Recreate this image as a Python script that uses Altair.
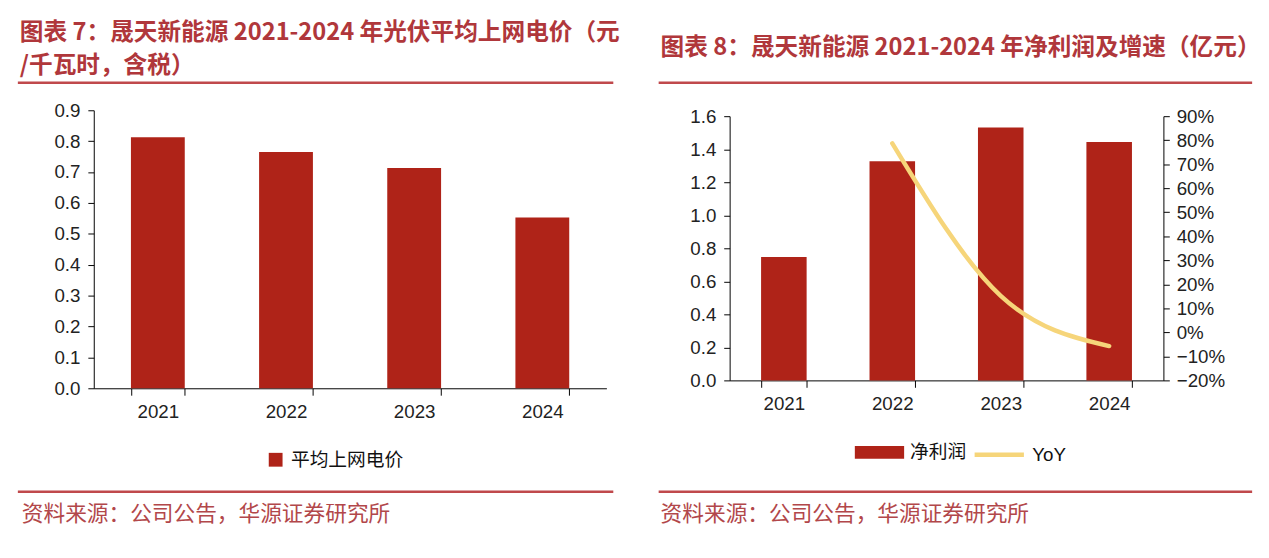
import altair as alt
import pandas as pd

# ---------------- data ----------------
years = ["2021", "2022", "2023", "2024"]
price = [0.813, 0.765, 0.713, 0.553]          # 元/千瓦时
profit = [0.747, 1.327, 1.532, 1.443]         # 亿元
yoy_years = ["2022", "2023", "2024"]
yoy = [0.787, 0.152, -0.057]

price_ticks = [0.0, 0.1, 0.2, 0.3, 0.4, 0.5, 0.6, 0.7, 0.8, 0.9]
profit_ticks = [0.0, 0.2, 0.4, 0.6, 0.8, 1.0, 1.2, 1.4, 1.6]
yoy_ticks = [-0.2, -0.1, 0.0, 0.1, 0.2, 0.3, 0.4, 0.5, 0.6, 0.7, 0.8, 0.9]

title_left_1 = "图表 7：晟天新能源 2021-2024 年光伏平均上网电价（元"
title_left_2 = "/千瓦时，含税）"
title_right = "图表 8：晟天新能源 2021-2024 年净利润及增速（亿元）"
source_text = "资料来源：公司公告，华源证券研究所"
series_price = "平均上网电价"
series_profit = "净利润"
series_yoy = "YoY"

# ---------------- styles ----------------
RED = "#AF2318"
YELLOW = "#F6D57A"
TITLE_RED = "#B0373B"
RULE_RED = "#C0494C"
SRC_RED = "#B2474A"
NUM_FONT = "Liberation Sans"
CJK_FONT = "Noto Sans CJK SC"

one = alt.Data(values=[{"k": 1}])


def label(text, x, y, size, color, weight="normal", font=CJK_FONT):
    return alt.Chart(one).mark_text(
        align="left", baseline="middle", font=font, fontSize=size,
        fontWeight=weight, color=color
    ).encode(x=alt.value(x), y=alt.value(y), text=alt.value(text))


def hrule(x1, x2, y, color, width):
    return alt.Chart(one).mark_rule(color=color, strokeWidth=width).encode(
        x=alt.value(x1), x2=alt.value(x2), y=alt.value(y)
    )


def x_axis():
    return alt.Axis(
        title=None, labelAngle=0, tickBand="extent", tickSize=7,
        tickColor="black", domainColor="black", labelFont=NUM_FONT,
        labelFontSize=19, labelColor="#222", labelPadding=8, grid=False
    )


def y_axis(values, fmt, orient="left", pad=8):
    return alt.Axis(
        title=None, values=values, format=fmt, orient=orient, tickSize=6,
        tickColor="black", domainColor="black", labelFont=NUM_FONT,
        labelFontSize=19, labelColor="#222", labelPadding=pad, grid=False
    )


x_scale = alt.Scale(paddingInner=0.58, paddingOuter=0.29)

# ---------------- left panel ----------------
WL, HL = 520, 282
dfL = pd.DataFrame({"year": years, "value": price, "series": [series_price] * len(years)})

barsL = alt.Chart(dfL).mark_bar().encode(
    x=alt.X("year:N", scale=x_scale, axis=x_axis()),
    y=alt.Y("value:Q", scale=alt.Scale(domain=[0, 0.9], nice=False),
            axis=y_axis(price_ticks, ".1f")),
    color=alt.Color(
        "series:N",
        scale=alt.Scale(domain=[series_price], range=[RED]),
        legend=alt.Legend(
            title=None, orient="none", legendX=175, legendY=345, padding=0,
            symbolType="square", symbolSize=196, symbolStrokeWidth=0,
            labelFont=CJK_FONT, labelFontSize=19, labelColor="#111",
            labelOffset=6
        ),
    ),
)

left = alt.layer(
    barsL,
    hrule(0, 10, -97, "white", 1),
    label(title_left_1, -75, -78, 24, TITLE_RED, "bold"),
    label(title_left_2, -75, -45, 24, TITLE_RED, "bold"),
    hrule(-77, 527, -28, RULE_RED, 2.5),
    hrule(-77, 527, 387, RULE_RED, 2.5),
    label(source_text, -73, 410, 22, SRC_RED),
).properties(width=WL, height=HL)

# ---------------- right panel ----------------
# plot origin shares the row top with the left panel;
# the right plot starts 6px lower, so its y-range begins at 6.
WR, HR = 440, 274
TOP_R = 6
dfR = pd.DataFrame({"year": years, "value": profit, "series": [series_profit] * len(years)})
dfY = pd.DataFrame({"year": yoy_years, "yoy": yoy, "series": [series_yoy] * len(yoy_years)})

barsR = alt.Chart(dfR).mark_bar().encode(
    x=alt.X("year:N", scale=x_scale, axis=x_axis()),
    y=alt.Y("value:Q", scale=alt.Scale(domain=[0, 1.6], nice=False, range=[HR, TOP_R]),
            axis=y_axis(profit_ticks, ".1f")),
    fill=alt.Fill(
        "series:N",
        scale=alt.Scale(domain=[series_profit], range=[RED]),
        legend=alt.Legend(
            title=None, orient="none", legendX=127, legendY=322, padding=0,
            symbolType="M-1,-0.26H1V0.26H-1Z", symbolSize=2500,
            symbolStrokeWidth=0, labelFont=CJK_FONT, labelFontSize=19,
            labelColor="#111", labelOffset=6
        ),
    ),
)

lineR = alt.Chart(dfY).mark_line(
    interpolate="monotone", strokeWidth=4.5, strokeCap="round"
).encode(
    x=alt.X("year:N"),
    y=alt.Y("yoy:Q", scale=alt.Scale(domain=[-0.2, 0.9], nice=False, range=[HR, TOP_R]),
            axis=y_axis(yoy_ticks, ".0%", orient="right", pad=7)),
    stroke=alt.Stroke(
        "series:N",
        scale=alt.Scale(domain=[series_yoy], range=[YELLOW]),
        legend=alt.Legend(
            title=None, orient="none", legendX=246, legendY=322, padding=0,
            symbolType="stroke", symbolSize=2500, symbolStrokeWidth=4.5,
            labelFont=NUM_FONT, labelFontSize=19, labelColor="#111",
            labelOffset=6
        ),
    ),
)

right = alt.layer(
    barsR,
    lineR,
    label(title_right, -70, -63, 24, TITLE_RED, "bold"),
    hrule(-72, 530, -28, RULE_RED, 2.5),
    hrule(-72, 530, 387, RULE_RED, 2.5),
    label(source_text, -70, 410, 22, SRC_RED),
).resolve_scale(y="independent").properties(width=WR, height=HR)

chart = alt.hconcat(left, right, spacing=37).resolve_scale(
    color="independent", fill="independent", stroke="independent"
).resolve_legend(
    color="independent", fill="independent", stroke="independent"
).properties(
    padding={"left": 8, "top": 2, "right": 0, "bottom": 0},
    background="white",
).configure_view(stroke=None)

chart.save("out.html", embed_options={"renderer": "svg", "actions": False})
